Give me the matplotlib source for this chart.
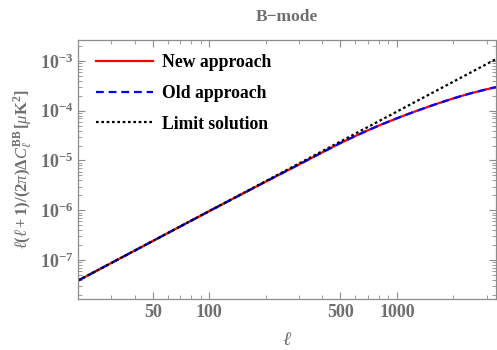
import matplotlib
matplotlib.use("Agg")
import matplotlib.pyplot as plt
from matplotlib.ticker import FixedLocator, FixedFormatter, LogLocator, NullFormatter

plt.rcParams['font.family'] = ['Liberation Serif', 'DejaVu Serif']
plt.rcParams['mathtext.fontset'] = 'custom'
plt.rcParams['mathtext.rm'] = 'Liberation Serif:bold'
plt.rcParams['mathtext.bf'] = 'Liberation Serif:bold'
plt.rcParams['mathtext.it'] = 'Liberation Serif:italic'

# data
ell = [20, 50, 100, 200, 300, 400, 500, 600, 700, 800, 900, 1000, 1200,
       1500, 1750, 2000, 2250, 2500, 2750, 3000, 3400]
new_approach = [3.85e-8, 2.40e-7, 9.6e-7, 3.76e-6, 8.27e-6, 1.453e-5, 2.244e-5,
                3.10e-5, 4.04e-5, 5.02e-5, 6.02e-5, 7.05e-5, 9.16e-5,
                1.237e-4, 1.505e-4, 1.772e-4, 2.026e-4, 2.265e-4, 2.48e-4,
                2.70e-4, 3.0e-4]
old_approach = [3.85e-8, 2.40e-7, 9.6e-7, 3.76e-6, 8.27e-6, 1.453e-5, 2.244e-5,
                3.10e-5, 4.04e-5, 5.02e-5, 6.02e-5, 7.05e-5, 9.16e-5,
                1.237e-4, 1.505e-4, 1.772e-4, 2.026e-4, 2.265e-4, 2.48e-4,
                2.70e-4, 3.0e-4]
limit_solution = [3.85e-8, 2.405e-7, 9.62e-7, 3.848e-6, 8.658e-6, 1.539e-5, 2.405e-5,
                  3.463e-5, 4.714e-5, 6.157e-5, 7.792e-5, 9.62e-5, 1.385e-4,
                  2.165e-4, 2.946e-4, 3.848e-4, 4.870e-4, 6.013e-4, 7.275e-4,
                  8.658e-4, 1.112e-3]
labels = ["New approach", "Old approach", "Limit solution"]
xtick_vals = [50, 100, 500, 1000]
xtick_labels = ["50", "100", "500", "1000"]

gray = '#6e6e6e'
spine_gray = '#8c8c8c'

fig = plt.figure(figsize=(4.97, 3.5), dpi=100)
ax = fig.add_axes([78/497, 1-299/350, (496-78)/497, (299-40)/350])

ax.plot(ell, new_approach, color='red', lw=1.6, label=labels[0])
ax.plot(ell, old_approach, color='blue', lw=1.6, ls=(0, (3.5, 2.2)), label=labels[1])
ax.plot(ell, limit_solution, color='black', lw=1.6, ls=(0, (1.2, 1.2)), label=labels[2])

ax.set_xscale('log')
ax.set_yscale('log')
ax.set_xlim(20, 3370)
ax.set_ylim(10**-7.784, 10**-2.578)

ax.xaxis.set_major_locator(FixedLocator(xtick_vals))
ax.xaxis.set_major_formatter(FixedFormatter(xtick_labels))
ax.xaxis.set_minor_locator(LogLocator(base=10, subs=range(1, 10), numticks=50))
ax.xaxis.set_minor_formatter(NullFormatter())
ax.yaxis.set_major_locator(LogLocator(base=10, numticks=20))
ax.yaxis.set_minor_locator(LogLocator(base=10, subs=range(2, 10), numticks=50))
ax.yaxis.set_minor_formatter(NullFormatter())

ax.tick_params(which='both', direction='in', top=True, right=True, colors=spine_gray,
               labelcolor=gray, labelsize=13)
ax.tick_params(which='major', length=5, width=0.8)
ax.tick_params(which='minor', length=3, width=0.6)
for lab in ax.get_xticklabels() + ax.get_yticklabels():
    lab.set_fontweight('bold')
for s in ax.spines.values():
    s.set_color(spine_gray)
    s.set_linewidth(0.9)
ax.spines['right'].set_linestyle((0, (1, 1)))

ax.set_title('B\u2212mode', color=gray, fontweight='bold', fontsize=12.5, pad=14)
ax.set_xlabel(r'$\mathit{\ell}$', color=gray, fontsize=14, labelpad=8)
ax.set_ylabel(r'$\mathit{\ell(\ell+1)/(2\pi)}\Delta C_{\mathit{\ell}}^{\rm BB}\,[\mu{\rm K}^2]$',
              color=gray, fontsize=12, labelpad=4)

leg = ax.legend(loc='upper left', frameon=False, handlelength=3.2, handletextpad=0.55,
                labelspacing=0.78, borderaxespad=0.4, bbox_to_anchor=(0.01, 1.0),
                prop={'family': 'Liberation Serif', 'weight': 'bold', 'size': 12.7})

fig.savefig('out.png', dpi=100)
